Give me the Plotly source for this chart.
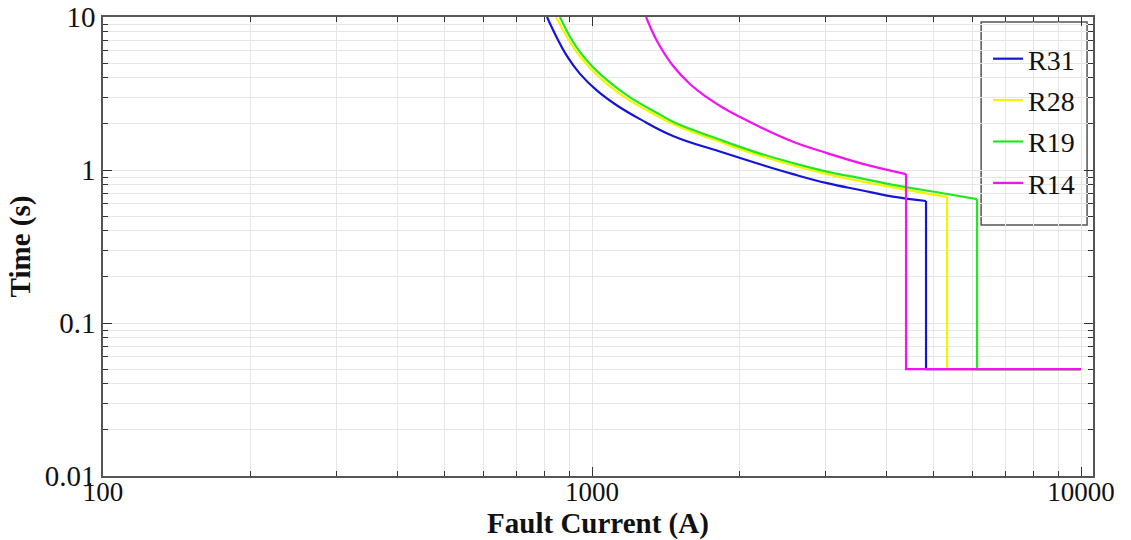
import plotly.graph_objects as go

# Inverse-time part of each relay curve: fault current (A) and operating time (s)
r31_current = [809, 848, 889, 945, 1024, 1125, 1254, 1464, 1853, 2206, 2577, 3024, 3533, 4126, 4820]
r31_time = [10, 7.30, 5.55, 4.25, 3.30, 2.64, 2.15, 1.67, 1.30, 1.09, 0.94, 0.82, 0.74, 0.67, 0.627]

r28_current = [844, 889, 932, 991, 1068, 1174, 1352, 1464, 1853, 2206, 3024, 4126, 5321]
r28_time = [10, 7.40, 5.85, 4.65, 3.70, 2.95, 2.28, 2.00, 1.50, 1.24, 0.94, 0.77, 0.667]

r19_current = [860, 902, 945, 1005, 1089, 1196, 1378, 1464, 1853, 2206, 2577, 3024, 3533, 4126, 5148, 6129]
r19_time = [10, 7.40, 5.90, 4.70, 3.72, 2.98, 2.30, 2.07, 1.55, 1.28, 1.11, 0.975, 0.885, 0.80, 0.71, 0.645]

r14_current = [1290, 1358, 1464, 1586, 1719, 1853, 2008, 2206, 2577, 3024, 3533, 4387]
r14_time = [10, 6.97, 4.80, 3.65, 2.98, 2.55, 2.22, 1.91, 1.53, 1.29, 1.11, 0.94]

# Instantaneous (definite-time) part: drop at the setting current down to 0.05 s, then flat to 10 kA
r31_step_current = [4820, 4820, 10000]
r31_step_time = [0.627, 0.05, 0.05]
r28_step_current = [5321, 5321, 10000]
r28_step_time = [0.667, 0.05, 0.05]
r19_step_current = [6129, 6129, 10000]
r19_step_time = [0.645, 0.05, 0.05]
r14_step_current = [4387, 4387, 10000]
r14_step_time = [0.94, 0.05, 0.05]

series = [
    ("R31", r31_current, r31_time, r31_step_current, r31_step_time, "#1515d8"),
    ("R28", r28_current, r28_time, r28_step_current, r28_step_time, "#f4f400"),
    ("R19", r19_current, r19_time, r19_step_current, r19_step_time, "#22e822"),
    ("R14", r14_current, r14_time, r14_step_current, r14_step_time, "#f212f2"),
]

x_ticks = [100, 1000, 10000]
x_tick_text = ["100", "1000", "10000"]
y_ticks = [0.01, 0.1, 1, 10]
y_tick_text = ["0.01", "0.1", "1", "10"]

x_minor = [m * d for d in (100, 1000) for m in range(2, 10)]
y_minor = [m * d for d in (0.01, 0.1, 1) for m in range(2, 10)]

serif = "Liberation Serif, Times New Roman, serif"

fig = go.Figure()
for name, xs, ys, sx, sy, color in series:
    fig.add_trace(go.Scatter(
        x=xs, y=ys, name=name, mode="lines", legendgroup=name,
        line=dict(color=color, width=2.2, shape="spline", smoothing=1.2),
    ))
for name, xs, ys, sx, sy, color in series:
    fig.add_trace(go.Scatter(
        x=sx, y=sy, name=name, mode="lines", legendgroup=name, showlegend=False,
        line=dict(color=color, width=2.2),
    ))

axis_common = dict(
    type="log", automargin=False,
    showline=True, linecolor="#555555", linewidth=1.5, mirror="ticks",
    ticks="inside", ticklen=9, tickcolor="#333333", tickwidth=1.2,
    showgrid=True, gridcolor="#e6e6e6", gridwidth=1,
    zeroline=False,
)

fig.update_layout(
    width=1131, height=540,
    margin=dict(l=103, r=38, t=17, b=64),
    paper_bgcolor="white", plot_bgcolor="white",
    showlegend=True,
    legend=dict(
        x=0.894, y=0.963, xanchor="left", yanchor="top",
        bgcolor="rgba(0,0,0,0)", borderwidth=0,
        font=dict(family=serif, size=28, color="#111111"),
        tracegroupgap=2,
    ),
    xaxis=dict(
        **axis_common,
        range=[2, 4.0245],
        tickmode="array", tickvals=x_ticks, ticktext=x_tick_text,
        tickfont=dict(family=serif, size=27, color="#111111"),
        ticklabelstandoff=-9,
        minor=dict(tickmode="array", tickvals=x_minor, ticks="inside", ticklen=5,
                   tickcolor="#333333", showgrid=True, gridcolor="#e6e6e6"),
        title=dict(text="<b>Fault Current (A)</b>", standoff=4,
                   font=dict(family=serif, size=29, color="#111111")),
    ),
    yaxis=dict(
        **axis_common,
        range=[-2, 1],
        tickmode="array", tickvals=y_ticks, ticktext=y_tick_text,
        tickfont=dict(family=serif, size=29, color="#111111"),
        minor=dict(tickmode="array", tickvals=y_minor, ticks="inside", ticklen=5,
                   tickcolor="#333333", showgrid=True, gridcolor="#e6e6e6"),
        title=dict(text="<b>Time (s)</b>", standoff=6,
                   font=dict(family=serif, size=29, color="#111111")),
    ),
    shapes=[dict(
        type="rect", xref="paper", yref="paper",
        x0=0.887, x1=0.994, y0=0.547, y1=0.989,
        line=dict(color="#555555", width=1.5), fillcolor="white", layer="below",
    )],
)

fig.write_html("out.html")
